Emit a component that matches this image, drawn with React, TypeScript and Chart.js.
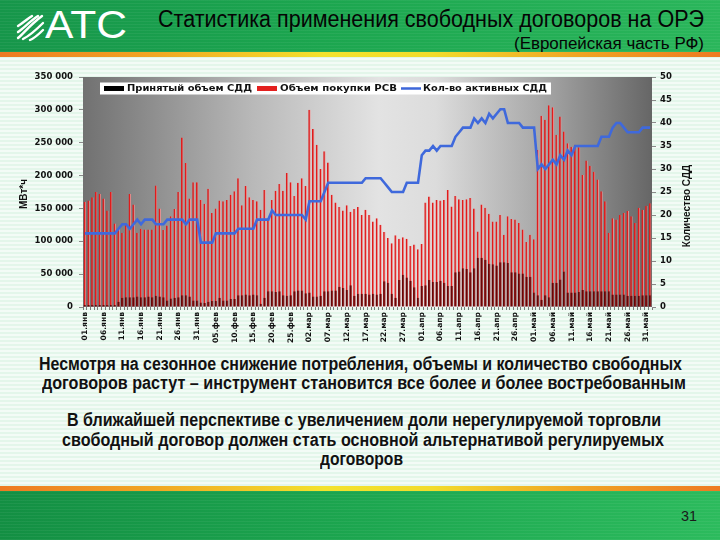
import React, { useEffect, useLayoutEffect, useRef } from "react";
import { Chart, registerables } from "chart.js";

Chart.register(...registerables);

// ---------- data ----------
const monthNames = ["янв", "фев", "мар", "апр", "май", "июн"];
const monthLengths = [31, 28, 31, 30, 31, 1];
const dateLabels: string[] = [];
monthNames.forEach((m, k) => {
  for (let d = 1; d <= monthLengths[k]; d++) dateLabels.push(`${String(d).padStart(2, "0")}.${m}`);
});
const labelEvery = 5;

const seriesNames = ["Принятый объем СДД", "Объем покупки РСВ", "Кол-во активных СДД"];

// Объем покупки РСВ, МВт*ч
const rsvVolume = [
  160000, 162000, 167000, 175000, 172000, 165000, 147000, 175000, 127000, 119000,
  113000, 127000, 172000, 156000, 113000, 119000, 118000, 118000, 118000, 185000,
  150000, 117000, 124000, 138000, 149000, 175000, 258000, 219000, 165000, 190000,
  190000, 163000, 157000, 180000, 143000, 150000, 162000, 161000, 163000, 171000,
  176000, 196000, 155000, 184000, 167000, 163000, 161000, 148000, 178000, 135000,
  163000, 177000, 187000, 177000, 204000, 190000, 169000, 189000, 196000, 184000,
  300000, 271000, 247000, 210000, 237000, 220000, 171000, 159000, 152000, 147000,
  155000, 145000, 149000, 152000, 140000, 148000, 140000, 130000, 135000, 125000,
  114000, 105000, 97000, 109000, 104000, 106000, 104000, 93000, 95000, 88000,
  96000, 159000, 168000, 159000, 163000, 162000, 163000, 178000, 153000, 169000,
  164000, 163000, 164000, 166000, 150000, 115000, 156000, 151000, 142000, 130000,
  130000, 140000, 110000, 138000, 134000, 133000, 128000, 118000, 99000, 110000,
  103000, 239000, 291000, 285000, 307000, 304000, 262000, 290000, 267000, 249000,
  244000, 247000, 243000, 201000, 223000, 215000, 206000, 194000, 176000, 161000,
  113000, 135000, 133000, 140000, 143000, 146000, 138000, 128000, 151000, 148000,
  154000, 158000,
];

// Принятый объем СДД, МВт*ч
const acceptedSDD = [
  3000, 3000, 3000, 3000, 3000, 3000, 3000, 3000, 3000, 8000,
  14000, 15000, 15000, 15000, 16000, 15000, 15000, 16000, 15000, 17000,
  16000, 15000, 10000, 13000, 14000, 15000, 18000, 18000, 16000, 10000,
  10000, 7000, 6000, 8000, 9000, 9000, 14000, 10000, 10000, 12000,
  12000, 18000, 18000, 19000, 18000, 19000, 18000, 5000, 14000, 24000,
  24000, 23000, 24000, 18000, 17000, 18000, 24000, 25000, 25000, 21000,
  22000, 16000, 16000, 17000, 24000, 24000, 25000, 25000, 31000, 29000,
  26000, 33000, 17000, 20000, 20000, 20000, 19000, 20000, 19000, 20000,
  39000, 37000, 20000, 14000, 41000, 49000, 45000, 40000, 30000, 14000,
  32000, 33000, 41000, 38000, 38000, 40000, 37000, 32000, 32000, 53000,
  54000, 59000, 58000, 53000, 59000, 75000, 75000, 72000, 66000, 65000,
  63000, 68000, 68000, 67000, 53000, 53000, 51000, 51000, 46000, 46000,
  22000, 18000, 11000, 18000, 15000, 37000, 37000, 42000, 54000, 22000,
  22000, 22000, 23000, 26000, 24000, 24000, 24000, 24000, 24000, 24000,
  24000, 19000, 19000, 19000, 19000, 17000, 17000, 17000, 17000, 18000,
  18000, 18000,
];

// Кол-во активных СДД
const activeSDD = [
  16, 16, 16, 16, 16, 16, 16, 16, 16, 17,
  18, 18, 17, 18, 19, 18, 19, 19, 19, 18,
  18, 18, 19, 19, 19, 19, 19, 18, 19, 19,
  19, 14, 14, 14, 14, 16, 16, 16, 16, 16,
  16, 17, 17, 17, 17, 17, 19, 19, 19, 19,
  21, 20, 20, 20, 20, 20, 20, 20, 20, 19,
  23, 23, 23, 23, 25, 27, 27, 27, 27, 27,
  27, 27, 27, 27, 27, 28, 28, 28, 28, 28,
  27, 26, 25, 25, 25, 25, 27, 27, 27, 27,
  33, 34, 34, 35, 34, 35, 35, 35, 35, 37,
  38, 39, 39, 39, 41, 40, 41, 40, 42, 41,
  42, 43, 43, 40, 40, 40, 40, 39, 39, 39,
  39, 30, 31, 30, 31, 32, 31, 33, 32, 34,
  33, 35, 35, 35, 35, 35, 35, 35, 37, 37,
  37, 39, 40, 40, 39, 38, 38, 38, 38, 39,
  39, 39,
];

const leftAxisMax = 350000;
const leftAxisStep = 50000;
const rightAxisMax = 50;
const rightAxisStep = 5;
const leftAxisTitle = "МВт*ч";
const rightAxisTitle = "Количество СДД";

// ---------- layout constants ----------
const CANVAS_TOP = 62;
const CANVAS_H = 283;
const FONT = '"Liberation Sans", Arial, sans-serif';
const TICK_FONT = '"DejaVu Sans", sans-serif';

const fmtThousands = (v: number) => String(v).replace(/\B(?=(\d{3})+(?!\d))/g, " ");

function FitText(props: {
  text: string; left: number; top: number; width: number; size: number;
  weight?: number | string; color?: string;
}) {
  const ref = useRef<HTMLDivElement>(null);
  useLayoutEffect(() => {
    const el = ref.current;
    if (!el) return;
    el.style.transform = "none";
    const w = el.getBoundingClientRect().width;
    if (w > 0) el.style.transform = `scaleX(${props.width / w})`;
  }, [props.text, props.width]);
  return (
    <div
      ref={ref}
      style={{
        position: "absolute", left: props.left, top: props.top, whiteSpace: "nowrap",
        fontFamily: FONT, fontSize: props.size, lineHeight: `${props.size}px`,
        fontWeight: props.weight ?? "normal", color: props.color ?? "#111",
        transformOrigin: "0 0",
      }}
    >
      {props.text}
    </div>
  );
}

function drawFit(ctx: CanvasRenderingContext2D, text: string, x: number, y: number, w: number) {
  const nat = ctx.measureText(text).width;
  ctx.save();
  ctx.translate(x, y);
  ctx.scale(w / nat, 1);
  ctx.fillText(text, 0, 0);
  ctx.restore();
}

const plotBackground = {
  id: "plotBackground",
  beforeDatasetsDraw(chart: any) {
    const { ctx, chartArea: a } = chart;
    const g = ctx.createLinearGradient(a.left, 0, a.right, 0);
    g.addColorStop(0, "#717171");
    g.addColorStop(0.3, "#b9b9b9");
    g.addColorStop(0.52, "#e3e3e3");
    g.addColorStop(0.62, "#dcdcdc");
    g.addColorStop(0.8, "#a9a9a9");
    g.addColorStop(1, "#666666");
    ctx.save();
    ctx.fillStyle = g;
    ctx.fillRect(a.left, a.top, a.right - a.left, a.bottom - a.top);
    ctx.restore();
  },
};

const boxLegend = {
  id: "boxLegend",
  afterDatasetsDraw(chart: any) {
    const ctx: CanvasRenderingContext2D = chart.ctx;
    const top = 82.5 - CANVAS_TOP;
    const bottom = 94.5 - CANVAS_TOP;
    const mid = (top + bottom) / 2;
    ctx.save();
    ctx.fillStyle = "#ffffff";
    ctx.fillRect(100, top, 451, bottom - top);
    ctx.font = `bold 8px ${TICK_FONT}`;
    ctx.textBaseline = "middle";
    ctx.fillStyle = "#000000";
    ctx.fillRect(104, mid - 2.5, 20, 5);
    ctx.fillStyle = "#111";
    drawFit(ctx, seriesNames[0], 127, mid + 0.5, 125);
    ctx.fillStyle = "#e3201f";
    ctx.fillRect(257, mid - 2.5, 20, 5);
    ctx.fillStyle = "#111";
    drawFit(ctx, seriesNames[1], 280, mid + 0.5, 117);
    ctx.strokeStyle = "#3d66d9";
    ctx.lineWidth = 2.5;
    ctx.beginPath();
    ctx.moveTo(401, mid);
    ctx.lineTo(421, mid);
    ctx.stroke();
    ctx.fillStyle = "#111";
    drawFit(ctx, seriesNames[2], 423, mid + 0.5, 124);
    ctx.restore();
  },
};

const axisTitles = {
  id: "axisTitles",
  afterDraw(chart: any) {
    const ctx: CanvasRenderingContext2D = chart.ctx;
    const draw = (text: string, x: number, y: number) => {
      ctx.save();
      ctx.fillStyle = "#111";
      ctx.textAlign = "center";
      ctx.textBaseline = "middle";
      ctx.font = `bold 10px ${FONT}`;
      ctx.translate(x, y - CANVAS_TOP);
      ctx.rotate(-Math.PI / 2);
      ctx.fillText(text, 0, 0);
      ctx.restore();
    };
    draw(leftAxisTitle, 24, 194);
    draw(rightAxisTitle, 687, 206);
  },
};

function SddChart() {
  const ref = useRef<HTMLCanvasElement>(null);
  useEffect(() => {
    if (!ref.current) return;
    const tickFont = { family: TICK_FONT, weight: "bold" as const, size: 8.5 };
    const chart = new Chart(ref.current, {
      type: "bar",
      data: {
        labels: dateLabels,
        datasets: [
          {
            type: "line",
            label: seriesNames[2],
            data: activeSDD,
            yAxisID: "y1",
            borderColor: "#3f69dc",
            borderWidth: 2.6,
            pointRadius: 0,
            tension: 0,
            order: 0,
          } as any,
          {
            type: "bar",
            label: seriesNames[0],
            data: acceptedSDD,
            yAxisID: "y",
            backgroundColor: "#650606",
            borderColor: "#8e1e1e",
            borderWidth: { left: 0, right: 0.8, top: 0, bottom: 0 },
            borderSkipped: false,
            grouped: false,
            barPercentage: 0.66,
            categoryPercentage: 1,
            order: 1,
          },
          {
            type: "bar",
            label: seriesNames[1],
            data: rsvVolume,
            yAxisID: "y",
            backgroundColor: "#e01c1c",
            borderColor: "#f29a9a",
            borderWidth: { left: 0, right: 0.9, top: 0, bottom: 0 },
            borderSkipped: false,
            grouped: false,
            barPercentage: 0.66,
            categoryPercentage: 1,
            order: 2,
          },
        ],
      },
      options: {
        responsive: false,
        animation: false,
        layout: { padding: { top: 15, left: 0, right: 0, bottom: 0 } },
        plugins: { legend: { display: false }, tooltip: { enabled: false } },
        scales: {
          x: {
            type: "category",
            offset: true,
            border: { display: false },
            grid: { drawOnChartArea: false, drawTicks: true, tickLength: 3, color: "#7a7a7a", offset: true },
            ticks: {
              autoSkip: false,
              maxRotation: 90,
              minRotation: 90,
              padding: 2,
              color: "#111",
              font: { family: TICK_FONT, weight: "bold", size: 7.6 },
              callback: (_v: any, i: number) => (i % labelEvery === 0 ? dateLabels[i] : ""),
            },
            afterFit: (s: any) => { s.height = 38; },
          },
          y: {
            position: "left",
            min: 0,
            max: leftAxisMax,
            border: { display: false },
            grid: { drawOnChartArea: false, tickLength: 4, color: "#8a8a8a" },
            ticks: { stepSize: leftAxisStep, padding: 6, color: "#111", font: tickFont, callback: (v: any) => fmtThousands(Number(v)) },
            afterFit: (s: any) => { s.width = 83; },
          },
          y1: {
            position: "right",
            min: 0,
            max: rightAxisMax,
            border: { display: false },
            grid: { drawOnChartArea: false, tickLength: 4, color: "#8a8a8a" },
            ticks: { stepSize: rightAxisStep, padding: 4, color: "#111", font: tickFont },
            afterFit: (s: any) => { s.width = 68; },
          },
        },
      } as any,
      plugins: [plotBackground, boxLegend, axisTitles],
    });
    return () => chart.destroy();
  }, []);
  return (
    <canvas
      ref={ref}
      width={720}
      height={CANVAS_H}
      style={{ position: "absolute", left: 0, top: CANVAS_TOP, width: 720, height: CANVAS_H }}
    />
  );
}

function Logo() {
  return (
    <div style={{ position: "absolute", left: 12, top: 10, width: 120, height: 34 }}>
      <svg width={32} height={32} viewBox="0 0 32 32" style={{ position: "absolute", left: 2, top: 1 }}>
        <g fill="none" stroke="#ffffff" strokeWidth={2.4} strokeLinecap="round">
          <path d="M4 27 C10 22, 16 14, 28 5" />
          <path d="M4 21 C10 17, 15 11, 24 5" />
          <path d="M4 15 C9 12, 13 8, 18 5" />
          <path d="M9 28 C15 25, 21 20, 29 12" />
          <path d="M16 29 C21 27, 25 23, 29 19" />
        </g>
      </svg>
      <FitText text="ATC" left={33} top={-4} width={82} size={38} color="#ffffff" />
    </div>
  );
}

const stripe = "linear-gradient(90deg, #ee7a22 0%, #f1a823 22%, #f3e22c 45%, #f2dc2b 60%, #f0a524 80%, #ee7a22 100%)";

export default function App() {
  return (
    <div
      style={{
        position: "fixed", left: 0, top: 0, width: 720, height: 540, overflow: "hidden",
        background: "repeating-linear-gradient(180deg, #e3f6ea 0px, #e3f6ea 2px, #f3fbf6 2px, #f3fbf6 4px)",
        fontFamily: FONT,
      }}
    >
      <div
        style={{
          position: "absolute", left: 0, top: 0, width: 720, height: 52,
          background:
            "repeating-linear-gradient(180deg, rgba(255,255,255,0.05) 0px, rgba(255,255,255,0.05) 1px, rgba(0,0,0,0) 1px, rgba(0,0,0,0) 3px), linear-gradient(90deg, #16964a 0%, #1ca64f 45%, #2ab65b 100%)",
        }}
      />
      <div style={{ position: "absolute", left: 0, top: 52, width: 720, height: 5, background: stripe }} />
      <Logo />
      <FitText text="Статистика применения свободных договоров на ОРЭ" left={158} top={8} width={546} size={23} color="#050505" />
      <FitText text="(Европейская часть РФ)" left={514} top={36} width={190} size={16} color="#050505" />

      <SddChart />

      <FitText text="Несмотря на сезонное снижение потребления, объемы и количество свободных" left={39} top={355} width={643} size={18} weight="bold" />
      <FitText text="договоров растут – инструмент становится все более и более востребованным" left={42} top={374} width={644} size={18} weight="bold" />
      <FitText text="В ближайшей перспективе с увеличением доли нерегулируемой торговли" left={67} top={411} width={594} size={18} weight="bold" />
      <FitText text="свободный договор должен стать основной альтернативой регулируемых" left={62} top={430.5} width={602} size={18} weight="bold" />
      <FitText text="договоров" left={320} top={450} width={83} size={18} weight="bold" />

      <div style={{ position: "absolute", left: 0, top: 486, width: 720, height: 5, background: stripe }} />
      <div
        style={{
          position: "absolute", left: 0, top: 491, width: 720, height: 49,
          background:
            "repeating-linear-gradient(180deg, rgba(255,255,255,0.05) 0px, rgba(255,255,255,0.05) 1px, rgba(0,0,0,0) 1px, rgba(0,0,0,0) 3px), linear-gradient(90deg, #138f43 0%, #1ca64f 50%, #2cbb5d 100%)",
        }}
      />
      <FitText text="31" left={681} top={509} width={16} size={14} color="#1a1a1a" />
    </div>
  );
}
